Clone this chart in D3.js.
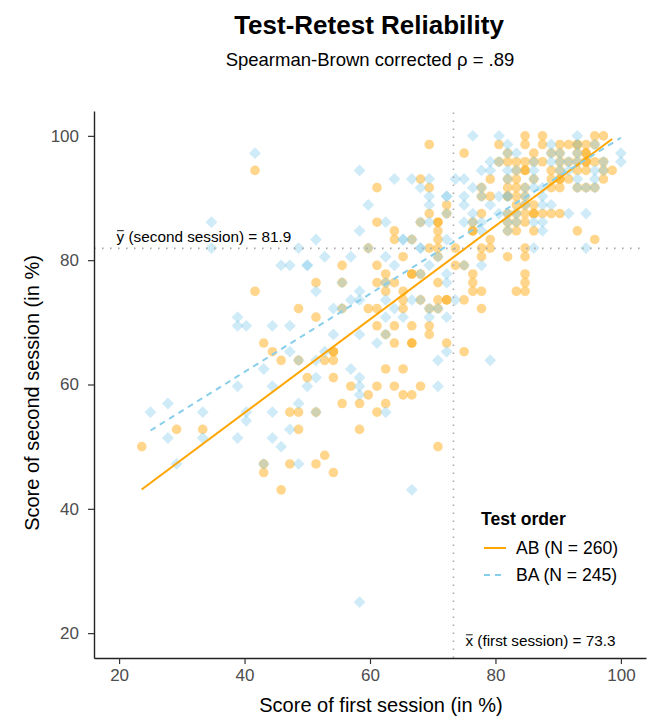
<!DOCTYPE html>
<html lang="en">

<head>
  <meta charset="UTF-8">
  <title>Test-Retest Reliability</title>
  <script src="https://cdn.jsdelivr.net/npm/d3@7"></script>
  <style>
    body {
      margin: 0;
      background: #fff;
    }

    svg {
      display: block;
      font-family: "Liberation Sans", Arial, Helvetica, sans-serif;
    }
  </style>
</head>

<body>
  <svg id="chart" width="649" height="716"></svg>
  <script>
    // scores = number of correct items (out of 72) in [first session, second session]
    const ITEMS = 72;

    const abPoints = [
      [61, 72], [63, 72], [69, 72], [70, 72],
      [50, 71], [58, 71], [61, 71], [63, 71], [65, 71], [66, 71], [67, 71], [67, 71], [68, 71], [69, 71],
      [54, 70], [59, 70], [62, 70], [64, 70], [65, 70], [67, 70], [68, 70], [68, 70],
      [58, 69], [59, 69], [60, 69], [61, 69], [62, 69], [63, 69], [65, 69], [66, 69], [67, 69], [68, 69], [68, 69], [69, 69], [70, 69],
      [30, 68], [60, 68], [61, 68], [61, 68], [64, 68], [65, 68], [67, 68], [68, 68], [70, 68], [71, 68],
      [49, 67], [57, 67], [59, 67], [60, 67], [62, 67], [64, 67], [65, 67], [65, 67], [66, 67], [70, 67],
      [44, 66], [50, 66], [56, 66], [59, 66], [60, 66], [61, 66], [64, 66], [65, 66], [67, 66], [68, 66], [69, 66],
      [56, 65], [57, 65], [59, 65], [59, 65], [60, 65], [61, 65],
      [52, 64], [60, 64], [61, 64], [62, 64],
      [50, 63], [52, 63], [56, 63], [59, 63], [60, 63], [61, 63], [62, 63], [62, 63], [63, 63], [64, 63], [65, 63],
      [44, 62], [49, 62], [51, 62], [51, 62], [55, 62], [59, 62], [60, 62], [61, 62],
      [46, 61], [51, 61], [55, 61], [55, 61], [59, 61], [60, 61], [62, 61], [67, 61],
      [46, 60], [48, 60], [51, 60], [57, 60], [69, 60],
      [43, 59], [50, 59], [51, 59], [53, 59], [56, 59], [57, 59], [61, 59],
      [47, 58], [51, 58], [56, 58], [59, 58], [61, 58],
      [40, 57], [44, 57], [53, 57], [54, 57],
      [45, 56], [48, 56], [48, 56], [49, 56], [55, 56], [61, 56],
      [37, 55], [40, 55], [44, 55], [45, 55], [46, 55], [51, 55], [55, 55], [61, 55],
      [30, 54], [45, 54], [47, 54], [55, 54], [56, 54], [60, 54], [61, 54],
      [47, 53], [49, 53], [51, 53], [52, 53], [52, 53], [54, 53],
      [35, 52], [40, 52], [43, 52], [44, 52], [47, 52], [50, 52], [51, 52], [56, 52],
      [37, 51],
      [44, 50], [46, 50], [48, 50], [50, 50],
      [45, 49], [50, 49],
      [31, 48], [46, 48], [48, 48], [48, 48], [52, 48],
      [32, 47], [39, 47], [39, 47], [54, 47],
      [33, 46], [35, 46], [38, 46], [39, 46],
      [45, 45], [47, 45],
      [36, 44], [39, 44],
      [41, 43], [44, 43], [46, 43], [49, 43],
      [43, 42], [47, 42], [48, 42],
      [40, 41], [42, 41], [45, 41],
      [34, 40], [35, 40], [37, 40], [44, 40],
      [21, 38], [24, 38], [35, 38], [42, 38],
      [17, 36], [51, 36],
      [38, 35],
      [31, 34], [34, 34], [37, 34],
      [31, 33], [39, 33],
      [33, 31]
    ];

    const baPoints = [
      [55, 72], [58, 72], [67, 72],
      [59, 71], [64, 71], [67, 71], [69, 71],
      [30, 70], [59, 70], [60, 70], [64, 70], [65, 70], [67, 70], [72, 70],
      [57, 69], [58, 69], [62, 69], [64, 69], [65, 69], [66, 69], [67, 69], [70, 69], [72, 69],
      [42, 68], [56, 68], [57, 68], [59, 68], [60, 68], [62, 68], [65, 68], [66, 68], [69, 68], [70, 68],
      [46, 67], [48, 67], [50, 67], [53, 67], [54, 67], [59, 67], [62, 67], [67, 67], [69, 67],
      [49, 66], [55, 66], [56, 66], [61, 66], [62, 66], [63, 66], [67, 66], [68, 66], [69, 66],
      [50, 65], [52, 65], [52, 65], [54, 65], [56, 65], [58, 65], [59, 65], [59, 65], [61, 65], [63, 65],
      [43, 64], [50, 64], [54, 64], [57, 64], [61, 64], [63, 64], [64, 64],
      [52, 63], [55, 63], [58, 63], [59, 63], [60, 63], [66, 63], [68, 63],
      [25, 62], [45, 62], [49, 62], [50, 62], [54, 62], [55, 62], [56, 62], [59, 62], [60, 62], [62, 62], [63, 62],
      [42, 61], [56, 61], [59, 61], [63, 61],
      [37, 60], [47, 60], [47, 60], [48, 60], [52, 60],
      [25, 59], [35, 59], [43, 59], [49, 59], [49, 59], [62, 59], [68, 59],
      [38, 58], [41, 58], [45, 58], [51, 58],
      [33, 57], [34, 57], [36, 57], [36, 57], [46, 57], [50, 57], [54, 57], [56, 57],
      [49, 56], [52, 56],
      [40, 55], [45, 55], [52, 55],
      [37, 54], [42, 54],
      [41, 53], [42, 53], [45, 53], [48, 53], [49, 53], [53, 53],
      [39, 52], [40, 52], [46, 52], [50, 52], [51, 52],
      [28, 51], [45, 51], [47, 51], [50, 51], [52, 51],
      [28, 50], [29, 50], [32, 50], [34, 50],
      [39, 49], [42, 49], [45, 49],
      [44, 48],
      [34, 47], [38, 47], [52, 47],
      [35, 46], [37, 46], [51, 46], [57, 46],
      [31, 45], [41, 45],
      [37, 44], [42, 44],
      [28, 43], [32, 43], [36, 43], [42, 43], [51, 43],
      [42, 42],
      [20, 41], [35, 41],
      [18, 40], [24, 40], [29, 40], [32, 40], [37, 40], [45, 40],
      [29, 39],
      [34, 38],
      [20, 37], [24, 37], [28, 37], [32, 37],
      [33, 36],
      [21, 34], [31, 34], [35, 34],
      [48, 31],
      [42, 18]
    ];

    // fitted lines, in % : [first, second] at both ends
    const abLine = [[23.6, 43.1], [98.6, 99.5]];
    const baLine = [[25.0, 52.6], [100, 99.7]];

    const meanFirst = 73.3;
    const meanSecond = 81.9;
    const axisTicks = [20, 40, 60, 80, 100];
    const groupLabels = ['AB (N = 260)', 'BA (N = 245)'];

    const orange = '#FFA500';
    const blue = '#87CEEB';

    const svg = d3.select('#chart');

    const x = d3.scaleLinear().domain([16, 104]).range([94, 646]);
    const y = d3.scaleLinear().domain([16, 104]).range([658, 111]);
    const pct = v => v / ITEMS * 100;

    // title + subtitle
    svg.append('text')
      .attr('x', 369).attr('y', 34)
      .attr('text-anchor', 'middle')
      .style('font-size', '26px').style('font-weight', 'bold')
      .text('Test-Retest Reliability');

    svg.append('text')
      .attr('x', 370).attr('y', 66)
      .attr('text-anchor', 'middle')
      .style('font-size', '18.5px')
      .text('Spearman-Brown corrected ρ = .89');

    // points
    const plot = svg.append('g');

    plot.selectAll('circle.ab')
      .data(abPoints)
      .enter()
      .append('circle')
      .attr('class', 'ab')
      .attr('cx', d => x(pct(d[0])))
      .attr('cy', d => y(pct(d[1])))
      .attr('r', 4.8)
      .attr('fill', orange)
      .attr('fill-opacity', 0.45);

    const diamond = d3.symbol(d3.symbolSquare, 70);
    plot.selectAll('path.ba')
      .data(baPoints)
      .enter()
      .append('path')
      .attr('class', 'ba')
      .attr('d', diamond)
      .attr('transform', d => `translate(${x(pct(d[0]))},${y(pct(d[1]))}) rotate(45)`)
      .attr('fill', blue)
      .attr('fill-opacity', 0.4);

    // mean lines
    const [x0, x1] = x.range();
    const [y0, y1] = y.range();

    plot.append('line')
      .attr('x1', x0).attr('x2', x1)
      .attr('y1', y(meanSecond)).attr('y2', y(meanSecond))
      .attr('stroke', '#aaa').attr('stroke-width', 1.6)
      .attr('stroke-dasharray', '1.6,6.4');

    plot.append('line')
      .attr('x1', x(meanFirst)).attr('x2', x(meanFirst))
      .attr('y1', y0).attr('y2', y1)
      .attr('stroke', '#aaa').attr('stroke-width', 1.6)
      .attr('stroke-dasharray', '1.6,6.4');

    // regression lines
    const line = d3.line().x(d => x(d[0])).y(d => y(d[1]));

    plot.append('path')
      .datum(abLine)
      .attr('d', line)
      .attr('fill', 'none')
      .attr('stroke', orange)
      .attr('stroke-width', 2);

    plot.append('path')
      .datum(baLine)
      .attr('d', line)
      .attr('fill', 'none')
      .attr('stroke', blue)
      .attr('stroke-width', 2)
      .attr('stroke-dasharray', '6,5');

    // mean annotations (bar drawn over the first letter)
    function meanLabel(px, py, letter, rest) {
      const t = svg.append('text')
        .attr('x', px).attr('y', py)
        .style('font-size', '15.3px');
      t.append('tspan').text(letter);
      t.append('tspan').text(rest);
      svg.append('line')
        .attr('x1', px + 0.5).attr('x2', px + 7.2)
        .attr('y1', py - 11.2).attr('y2', py - 11.2)
        .attr('stroke', '#000').attr('stroke-width', 0.9);
    }

    meanLabel(x(19.6), y(meanSecond) - 6.5, 'y', ` (second session) = ${meanSecond}`);
    meanLabel(x(meanFirst) + 12, y0 - 12, 'x', ` (first session) = ${meanFirst}`);

    // axes
    const xAxis = svg.append('g')
      .attr('transform', `translate(0,${y0})`)
      .call(d3.axisBottom(x).tickValues(axisTicks).tickSize(6).tickSizeOuter(0).tickPadding(5));

    const yAxis = svg.append('g')
      .attr('transform', `translate(${x0},0)`)
      .call(d3.axisLeft(y).tickValues(axisTicks).tickSize(6).tickSizeOuter(0).tickPadding(9));

    [xAxis, yAxis].forEach(ax => {
      ax.select('.domain').attr('stroke', '#222').attr('stroke-width', 1.4);
      ax.selectAll('.tick line').attr('stroke', '#333').attr('stroke-width', 1.2);
      ax.selectAll('.tick text')
        .attr('fill', '#4d4d4d')
        .style('font-size', '17px')
        .style('font-family', '"Liberation Sans", Arial, sans-serif');
    });

    svg.append('text')
      .attr('x', 381).attr('y', 712)
      .attr('text-anchor', 'middle')
      .style('font-size', '20px')
      .text('Score of first session (in %)');

    svg.append('text')
      .attr('transform', `translate(39,393) rotate(-90)`)
      .attr('text-anchor', 'middle')
      .style('font-size', '20px')
      .text('Score of second session (in %)');

    // legend
    const legend = svg.append('g').attr('transform', 'translate(481,525)');

    legend.append('text')
      .style('font-size', '17.6px').style('font-weight', 'bold')
      .text('Test order');

    const keys = legend.selectAll('g.key')
      .data(groupLabels)
      .enter()
      .append('g')
      .attr('class', 'key')
      .attr('transform', (d, i) => `translate(0,${23 + i * 27})`);

    keys.append('line')
      .attr('x1', 3).attr('x2', 25)
      .attr('stroke', (d, i) => i === 0 ? orange : blue)
      .attr('stroke-width', 2)
      .attr('stroke-dasharray', (d, i) => i === 0 ? null : '6,5');

    keys.append('text')
      .attr('x', 35).attr('dy', '0.35em')
      .style('font-size', '17.6px')
      .text(d => d);
  </script>
</body>

</html>
